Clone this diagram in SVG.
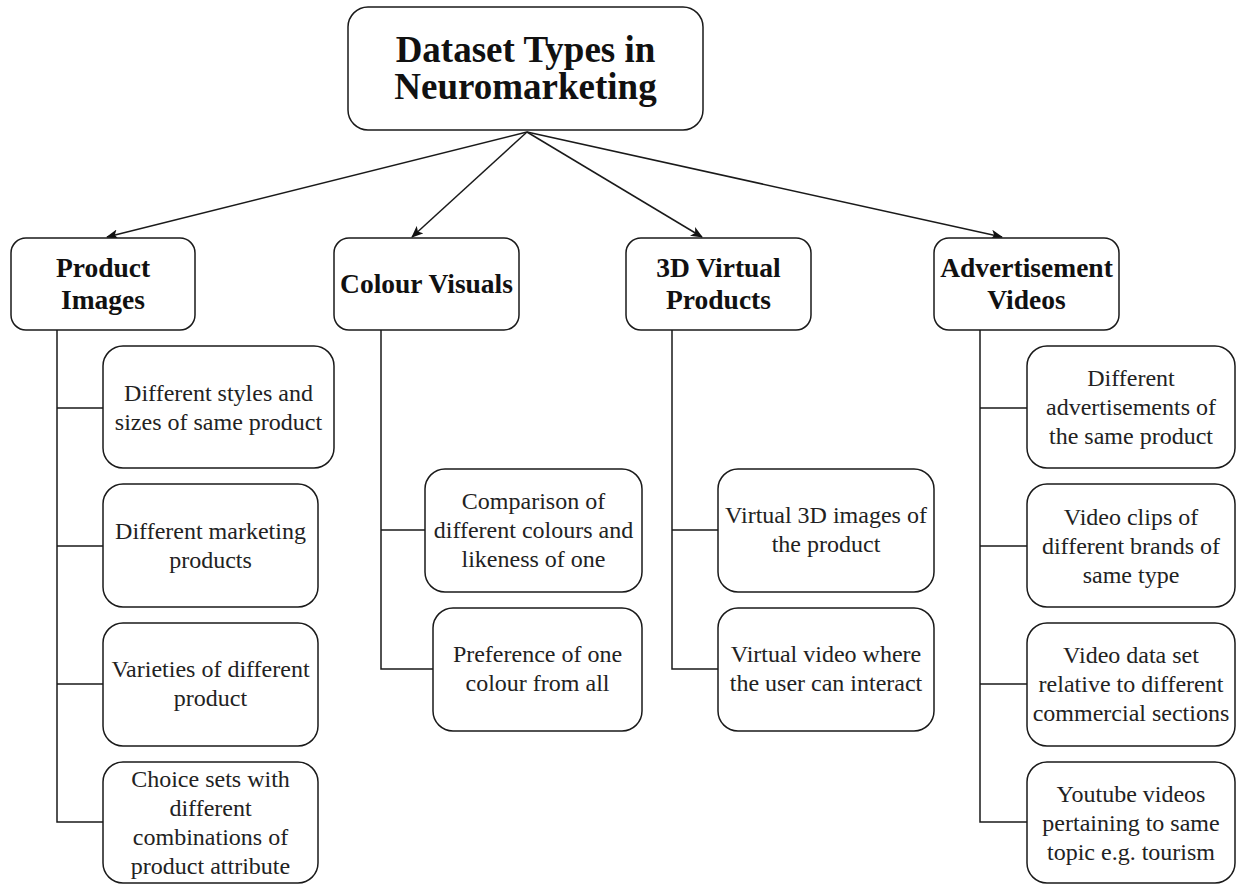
<svg xmlns="http://www.w3.org/2000/svg" width="1236" height="884" viewBox="0 0 1236 884">
  <defs>
    <style>
      .box { fill: #ffffff; stroke: #1a1a1a; stroke-width: 1.5; }
      .link { fill: none; stroke: #1a1a1a; stroke-width: 1.5; }
      .root { font-family: "Liberation Serif", "Times New Roman", serif; font-weight: bold; font-size: 37px; fill: #111; text-anchor: middle; }
      .head { font-family: "Liberation Serif", "Times New Roman", serif; font-weight: bold; font-size: 27.5px; fill: #111; text-anchor: middle; }
      .leaf { font-family: "Liberation Serif", "Times New Roman", serif; font-size: 24px; fill: #222; text-anchor: middle; }
    </style>
    <marker id="arrow" viewBox="0 0 12 10" refX="11" refY="5" markerWidth="12" markerHeight="10" markerUnits="userSpaceOnUse" orient="auto">
      <path d="M0,0 L12,5 L0,10 L3,5 Z" fill="#111"/>
    </marker>
  </defs>
  <rect width="1236" height="884" fill="#ffffff"/>

  <!-- connectors -->
  <g id="connectors">
    <line class="link" x1="527" y1="132" x2="107" y2="237" marker-end="url(#arrow)"/>
    <line class="link" x1="527" y1="132" x2="412" y2="237" marker-end="url(#arrow)"/>
    <line class="link" x1="527" y1="132" x2="702" y2="237" marker-end="url(#arrow)"/>
    <line class="link" x1="527" y1="132" x2="1002" y2="237" marker-end="url(#arrow)"/>
    <!-- Product Images branches -->
    <path class="link" d="M57,330 V822 H103 M57,408 H103 M57,546 H103 M57,684 H103"/>
    <!-- Colour Visuals branches -->
    <path class="link" d="M381,330 V669 H433 M381,530 H425"/>
    <!-- 3D Virtual Products branches -->
    <path class="link" d="M672,330 V669 H718 M672,530 H718"/>
    <!-- Advertisement Videos branches -->
    <path class="link" d="M980,330 V822 H1027 M980,408 H1027 M980,546 H1027 M980,684 H1027"/>
  </g>

  <!-- root -->
  <g id="root">
    <rect class="box" x="348" y="7" width="355" height="123" rx="20"/>
    <text class="root" x="525.5" y="62">Dataset Types in</text>
    <text class="root" x="525.5" y="99">Neuromarketing</text>
  </g>

  <!-- categories -->
  <g id="product-images">
    <rect class="box" x="11" y="238" width="184" height="92" rx="15"/>
    <text class="head" x="103" y="277">Product</text>
    <text class="head" x="103" y="309">Images</text>
  </g>
  <g id="colour-visuals">
    <rect class="box" x="334" y="238" width="185" height="92" rx="15"/>
    <text class="head" x="426.5" y="293">Colour Visuals</text>
  </g>
  <g id="virtual-products">
    <rect class="box" x="626" y="238" width="185" height="92" rx="15"/>
    <text class="head" x="718.5" y="277">3D Virtual</text>
    <text class="head" x="718.5" y="309">Products</text>
  </g>
  <g id="advertisement-videos">
    <rect class="box" x="934" y="238" width="185" height="92" rx="15"/>
    <text class="head" x="1026.5" y="277">Advertisement</text>
    <text class="head" x="1026.5" y="309">Videos</text>
  </g>

  <!-- Product Images items -->
  <g id="pi-styles">
    <rect class="box" x="103" y="346" width="231" height="122" rx="20"/>
    <text class="leaf" x="218.5" y="401">Different styles and</text>
    <text class="leaf" x="218.5" y="430">sizes of same product</text>
  </g>
  <g id="pi-marketing">
    <rect class="box" x="103" y="484" width="215" height="123" rx="20"/>
    <text class="leaf" x="210.5" y="539">Different marketing</text>
    <text class="leaf" x="210.5" y="568">products</text>
  </g>
  <g id="pi-varieties">
    <rect class="box" x="103" y="623" width="215" height="123" rx="20"/>
    <text class="leaf" x="210.5" y="677">Varieties of different</text>
    <text class="leaf" x="210.5" y="706">product</text>
  </g>
  <g id="pi-choice">
    <rect class="box" x="103" y="762" width="215" height="121" rx="20"/>
    <text class="leaf" x="210.5" y="787">Choice sets with</text>
    <text class="leaf" x="210.5" y="816">different</text>
    <text class="leaf" x="210.5" y="845">combinations of</text>
    <text class="leaf" x="210.5" y="874">product attribute</text>
  </g>

  <!-- Colour Visuals items -->
  <g id="cv-comparison">
    <rect class="box" x="425" y="469" width="217" height="123" rx="20"/>
    <text class="leaf" x="533.5" y="509">Comparison of</text>
    <text class="leaf" x="533.5" y="538">different colours and</text>
    <text class="leaf" x="533.5" y="567">likeness of one</text>
  </g>
  <g id="cv-preference">
    <rect class="box" x="433" y="608" width="209" height="123" rx="20"/>
    <text class="leaf" x="537.5" y="662">Preference of one</text>
    <text class="leaf" x="537.5" y="691">colour from all</text>
  </g>

  <!-- 3D Virtual Products items -->
  <g id="vp-images">
    <rect class="box" x="718" y="469" width="216" height="123" rx="20"/>
    <text class="leaf" x="826" y="523">Virtual 3D images of</text>
    <text class="leaf" x="826" y="552">the product</text>
  </g>
  <g id="vp-video">
    <rect class="box" x="718" y="608" width="216" height="123" rx="20"/>
    <text class="leaf" x="826" y="662">Virtual video where</text>
    <text class="leaf" x="826" y="691">the user can interact</text>
  </g>

  <!-- Advertisement Videos items -->
  <g id="av-different">
    <rect class="box" x="1027" y="346" width="208" height="122" rx="20"/>
    <text class="leaf" x="1131" y="386">Different</text>
    <text class="leaf" x="1131" y="415">advertisements of</text>
    <text class="leaf" x="1131" y="444">the same product</text>
  </g>
  <g id="av-clips">
    <rect class="box" x="1027" y="484" width="208" height="123" rx="20"/>
    <text class="leaf" x="1131" y="525">Video clips of</text>
    <text class="leaf" x="1131" y="554">different brands of</text>
    <text class="leaf" x="1131" y="583">same type</text>
  </g>
  <g id="av-dataset">
    <rect class="box" x="1027" y="623" width="208" height="123" rx="20"/>
    <text class="leaf" x="1131" y="663">Video data set</text>
    <text class="leaf" x="1131" y="692">relative to different</text>
    <text class="leaf" x="1131" y="721">commercial sections</text>
  </g>
  <g id="av-youtube">
    <rect class="box" x="1027" y="762" width="208" height="121" rx="20"/>
    <text class="leaf" x="1131" y="802">Youtube videos</text>
    <text class="leaf" x="1131" y="831">pertaining to same</text>
    <text class="leaf" x="1131" y="860">topic e.g. tourism</text>
  </g>
</svg>
